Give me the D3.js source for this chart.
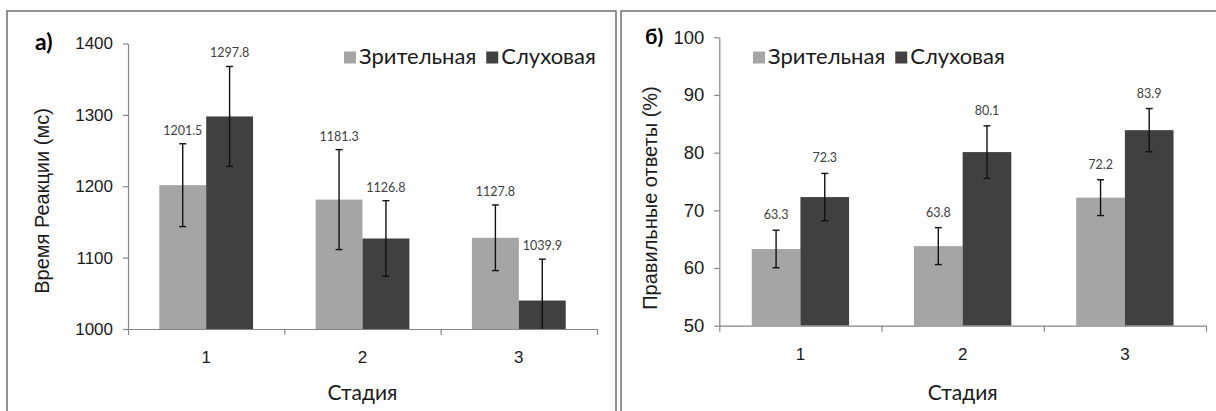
<!DOCTYPE html>
<html>
<head>
<meta charset="utf-8">
<script src="https://cdn.jsdelivr.net/npm/d3@7"></script>
<style>
  body { margin: 0; background: #fff; }
  svg { display: block; }
</style>
</head>
<body>
<svg id="chart" width="1216" height="411"></svg>
<script>
// data
var categories = ['1', '2', '3'];
var seriesNames = ['Зрительная', 'Слуховая'];

var rtVisual = [1201.5, 1181.3, 1127.8];
var rtAuditory = [1297.8, 1126.8, 1039.9];
var rtVisualErr = [58, 70, 46];
var rtAuditoryErr = [70, 53, 58];
var rtTicks = [1000, 1100, 1200, 1300, 1400];

var accVisual = [63.3, 63.8, 72.2];
var accAuditory = [72.3, 80.1, 83.9];
var accVisualErr = [3.25, 3.2, 3.1];
var accAuditoryErr = [4.1, 4.55, 3.75];
var accTicks = [50, 60, 70, 80, 90, 100];

var colors = ['#a5a5a5', '#404040'];
var calibri = 'Lato, "Open Sans", sans-serif';
var arial = '"Liberation Sans", Arial, sans-serif';

var svg = d3.select('#chart');

var panels = [
  {
    letter: 'а)', letterX: 35, letterY: 50, letterSize: 23,
    frame: [7, 11, 609, 420],
    x0: 128, x1: 597, yTop: 43.5, yBottom: 329,
    domain: [1000, 1400], ticks: rtTicks, tickSize: 17,
    values: [rtVisual, rtAuditory], errs: [rtVisualErr, rtAuditoryErr],
    yTitle: 'Время Реакции (мс)', yTitleX: 49, yTitleY: 201,
    legendX: 344, labelGap: 9
  },
  {
    letter: 'б)', letterX: 645, letterY: 44, letterSize: 21,
    frame: [621, 11, 620, 420],
    x0: 719.3, x1: 1206, yTop: 37.3, yBottom: 325.7,
    domain: [50, 100], ticks: accTicks, tickSize: 18.5,
    values: [accVisual, accAuditory], errs: [accVisualErr, accAuditoryErr],
    yTitle: 'Правильные ответы (%)', yTitleX: 657, yTitleY: 198,
    legendX: 753, labelGap: 11
  }
];

panels.forEach(function(p) {
  var g = svg.append('g');

  g.append('rect')
    .attr('x', p.frame[0]).attr('y', p.frame[1])
    .attr('width', p.frame[2]).attr('height', p.frame[3])
    .attr('fill', 'none')
    .attr('stroke', '#6f6f6f')
    .attr('stroke-width', 1.5);

  var y = d3.scaleLinear().domain(p.domain).range([p.yBottom, p.yTop]);
  var x = d3.scaleBand().domain(categories).range([p.x0, p.x1]).padding(0);
  var xs = d3.scaleBand().domain([0, 1]).range([0, x.bandwidth()])
    .paddingInner(0).paddingOuter(0.667);

  // bars
  var rows = [];
  categories.forEach(function(c, i) {
    [0, 1].forEach(function(s) {
      rows.push({ cat: c, s: s, v: p.values[s][i], e: p.errs[s][i] });
    });
  });

  g.selectAll('rect.bar')
    .data(rows)
    .enter().append('rect')
    .attr('class', 'bar')
    .attr('x', function(d) { return x(d.cat) + xs(d.s); })
    .attr('y', function(d) { return y(d.v); })
    .attr('width', xs.bandwidth())
    .attr('height', function(d) { return y(p.domain[0]) - y(d.v); })
    .attr('fill', function(d) { return colors[d.s]; });

  // axes
  var yAxis = d3.axisLeft(y).tickValues(p.ticks).tickFormat(d3.format('d'))
    .tickSize(5).tickSizeOuter(0).tickPadding(10);
  var ya = g.append('g').attr('transform', 'translate(' + p.x0 + ',0)').call(yAxis);

  var bounds = d3.scaleLinear().domain([0, categories.length]).range([p.x0, p.x1]);
  var xa = g.append('g').attr('transform', 'translate(0,' + p.yBottom + ')')
    .call(d3.axisBottom(bounds).tickValues(d3.range(categories.length + 1))
      .tickSize(6).tickSizeOuter(0).tickFormat(''));
  var xl = g.append('g').attr('transform', 'translate(0,' + p.yBottom + ')')
    .call(d3.axisBottom(x).tickSize(0).tickPadding(22));
  xl.select('.domain').remove();

  [ya, xa].forEach(function(a) {
    a.selectAll('path, line').attr('stroke', '#868686').attr('stroke-width', 1.2);
  });
  ya.selectAll('text').attr('font-family', arial).attr('font-size', p.tickSize).attr('fill', '#1a1a1a');
  xl.selectAll('text').attr('font-family', arial).attr('font-size', 17).attr('fill', '#1a1a1a');

  // error bars
  var eb = g.selectAll('g.err').data(rows).enter().append('g').attr('class', 'err')
    .attr('transform', function(d) { return 'translate(' + (x(d.cat) + xs(d.s) + xs.bandwidth() / 2) + ',0)'; });
  eb.append('line')
    .attr('y1', function(d) { return y(d.v + d.e); })
    .attr('y2', function(d) { return y(Math.max(p.domain[0], d.v - d.e)); });
  eb.append('line')
    .attr('x1', -3.5).attr('x2', 3.5)
    .attr('y1', function(d) { return y(d.v + d.e); })
    .attr('y2', function(d) { return y(d.v + d.e); });
  eb.filter(function(d) { return d.v - d.e > p.domain[0]; }).append('line')
    .attr('x1', -3.5).attr('x2', 3.5)
    .attr('y1', function(d) { return y(d.v - d.e); })
    .attr('y2', function(d) { return y(d.v - d.e); });
  eb.selectAll('line').attr('stroke', '#111').attr('stroke-width', 1.4);

  // value labels
  eb.append('text')
    .attr('y', function(d) { return y(d.v + d.e) - p.labelGap; })
    .attr('text-anchor', 'middle')
    .attr('font-family', calibri)
    .attr('font-size', 12.5)
    .attr('fill', '#404040')
    .text(function(d) { return d3.format('.1f')(d.v); });

  // titles
  g.append('text')
    .attr('transform', 'translate(' + p.yTitleX + ',' + p.yTitleY + ') rotate(-90)')
    .attr('text-anchor', 'middle')
    .attr('font-family', arial)
    .attr('font-size', 20)
    .attr('fill', '#1a1a1a')
    .text(p.yTitle);

  g.append('text')
    .attr('x', (p.x0 + p.x1) / 2).attr('y', 400)
    .attr('text-anchor', 'middle')
    .attr('font-family', calibri)
    .attr('font-size', 21)
    .attr('fill', '#1a1a1a')
    .text('Стадия');

  g.append('text')
    .attr('x', p.letterX).attr('y', p.letterY)
    .attr('font-family', calibri)
    .attr('font-weight', 'bold')
    .attr('font-size', p.letterSize)
    .attr('fill', '#000')
    .text(p.letter);

  // legend
  var lx = p.legendX;
  seriesNames.forEach(function(name, s) {
    g.append('rect')
      .attr('x', lx).attr('y', 51.5).attr('width', 12).attr('height', 12)
      .attr('fill', colors[s]);
    var t = g.append('text')
      .attr('x', lx + 15).attr('y', 63.5)
      .attr('font-family', calibri)
      .attr('font-size', 22)
      .attr('fill', '#1a1a1a')
      .text(name);
    lx += 15 + t.node().getComputedTextLength() + 10;
  });
});
</script>
</body>
</html>
